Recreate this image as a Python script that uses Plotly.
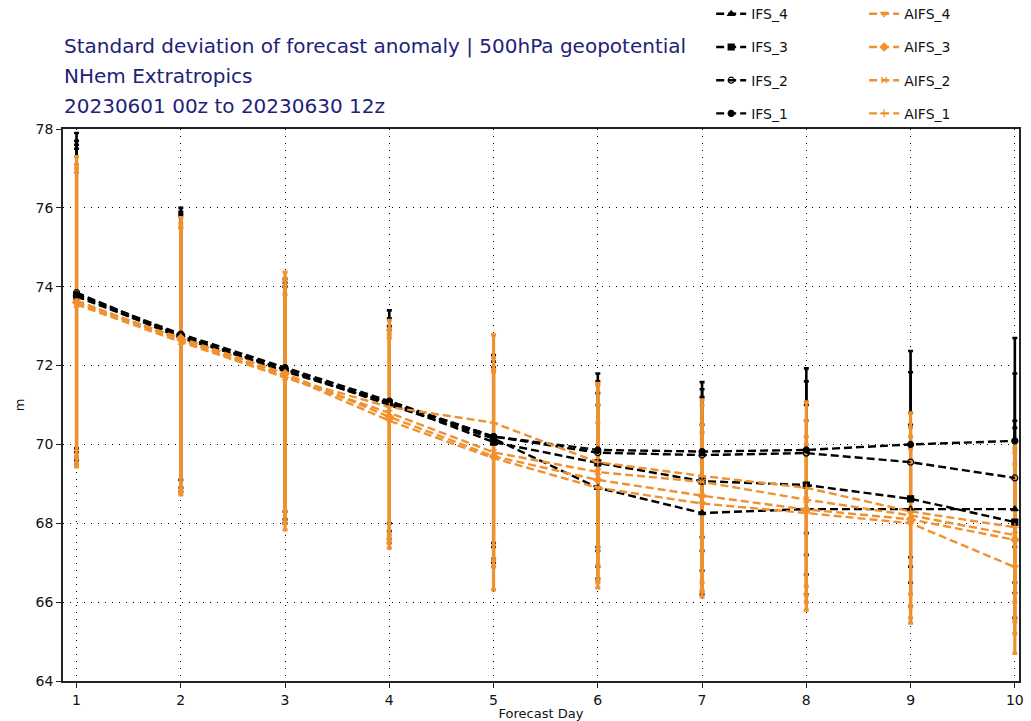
import plotly.graph_objects as go

days = [1, 2, 3, 4, 5, 6, 7, 8, 9, 10]

# mean values (m)
ifs_1 = [73.80, 72.80, 71.95, 71.10, 70.20, 69.86, 69.82, 69.86, 70.00, 70.09]
ifs_2 = [73.85, 72.75, 71.90, 71.05, 70.20, 69.79, 69.73, 69.78, 69.55, 69.15]
ifs_3 = [73.75, 72.75, 71.85, 71.05, 70.06, 69.53, 69.07, 68.97, 68.62, 68.03]
ifs_4 = [73.80, 72.70, 71.90, 71.00, 70.15, 68.90, 68.26, 68.36, 68.36, 68.36]

aifs_1 = [73.60, 72.65, 71.70, 70.95, 70.55, 69.55, 69.20, 68.90, 68.30, 67.90]
aifs_2 = [73.55, 72.60, 71.70, 70.80, 69.80, 69.30, 69.05, 68.60, 68.20, 67.70]
aifs_3 = [73.60, 72.70, 71.80, 70.70, 69.70, 69.10, 68.70, 68.35, 68.10, 67.58]
aifs_4 = [73.65, 72.65, 71.75, 70.60, 69.65, 68.90, 68.50, 68.26, 68.00, 66.89]

# whisker tops / bottoms (m)
ifs_1_hi = [77.90, 76.00, 74.20, 73.40, 72.27, 71.80, 71.58, 71.93, 72.37, 72.70]
ifs_1_lo = [69.80, 69.10, 68.30, 68.00, 67.50, 67.40, 67.65, 67.75, 67.14, 67.40]
ifs_2_hi = [77.70, 75.90, 74.10, 73.20, 72.10, 71.60, 71.40, 71.60, 71.83, 71.80]
ifs_2_lo = [69.90, 68.90, 68.10, 67.80, 67.40, 67.30, 67.30, 67.20, 66.90, 66.50]
ifs_3_hi = [77.60, 75.85, 74.00, 73.00, 71.95, 71.30, 71.20, 71.00, 70.80, 70.42]
ifs_3_lo = [69.60, 68.90, 68.00, 67.60, 67.10, 66.90, 66.80, 66.70, 66.49, 66.23]
ifs_4_hi = [77.50, 75.80, 74.00, 72.90, 71.90, 71.00, 70.50, 70.60, 70.50, 70.60]
ifs_4_lo = [69.50, 68.80, 68.00, 67.50, 67.00, 66.60, 66.20, 66.20, 65.90, 65.60]

aifs_1_hi = [77.30, 75.75, 74.37, 73.15, 72.78, 71.55, 71.13, 71.08, 70.80, 70.10]
aifs_1_lo = [69.43, 68.72, 67.83, 67.37, 66.31, 66.36, 66.13, 65.80, 65.47, 64.70]
aifs_2_hi = [77.10, 75.60, 74.20, 72.90, 72.20, 71.50, 71.00, 70.60, 70.44, 69.90]
aifs_2_lo = [69.65, 68.80, 68.00, 67.50, 66.90, 66.56, 66.26, 66.18, 65.88, 65.50]
aifs_3_hi = [77.00, 75.50, 74.00, 72.80, 71.84, 71.00, 70.50, 70.20, 70.20, 69.80]
aifs_3_lo = [69.70, 68.90, 68.30, 67.60, 67.07, 66.94, 66.50, 66.40, 66.20, 66.00]
aifs_4_hi = [76.90, 75.50, 73.80, 72.70, 71.90, 70.55, 70.30, 70.00, 69.90, 69.50]
aifs_4_lo = [69.50, 68.80, 68.00, 67.70, 66.90, 66.50, 66.30, 66.00, 65.60, 65.20]

BLACK = "#000000"
ORANGE = "#f0912f"
NAVY = "#22227a"
FONT = "DejaVu Sans"

series = [
    ("IFS_1", ifs_1, ifs_1_hi, ifs_1_lo, BLACK, "circle", "legend"),
    ("IFS_2", ifs_2, ifs_2_hi, ifs_2_lo, BLACK, "circle-open", "legend"),
    ("IFS_3", ifs_3, ifs_3_hi, ifs_3_lo, BLACK, "square", "legend"),
    ("IFS_4", ifs_4, ifs_4_hi, ifs_4_lo, BLACK, "triangle-up", "legend"),
    ("AIFS_1", aifs_1, aifs_1_hi, aifs_1_lo, ORANGE, "cross-thin-open", "legend2"),
    ("AIFS_2", aifs_2, aifs_2_hi, aifs_2_lo, ORANGE, "x-thin-open", "legend2"),
    ("AIFS_3", aifs_3, aifs_3_hi, aifs_3_lo, ORANGE, "diamond", "legend2"),
    ("AIFS_4", aifs_4, aifs_4_hi, aifs_4_lo, ORANGE, "triangle-down-open", "legend2"),
]

fig = go.Figure()

# whiskers first (under the mean lines)
for name, mean, hi, lo, col, sym, lg in series:
    plus = [h - m for h, m in zip(hi, mean)]
    minus = [m - l for m, l in zip(mean, lo)]
    fig.add_trace(go.Scatter(
        x=days, y=mean, mode="markers",
        marker=dict(size=1, opacity=0, color=col),
        error_y=dict(type="data", symmetric=False, array=plus, arrayminus=minus,
                     color=col, thickness=3.2 if col == ORANGE else 2.6, width=2.5),
        showlegend=False, hoverinfo="skip",
    ))

# mean lines on top
rank = {"IFS_4": 1, "IFS_3": 2, "IFS_2": 3, "IFS_1": 4,
        "AIFS_4": 1, "AIFS_3": 2, "AIFS_2": 3, "AIFS_1": 4}
for name, mean, hi, lo, col, sym, lg in series:
    fig.add_trace(go.Scatter(
        x=days, y=mean, mode="lines+markers", name=name,
        line=dict(color=col, width=2.4, dash="8px,4px"),
        marker=dict(symbol=sym, size=6, color=col, line=dict(color=col, width=1.2)),
        legend=lg, legendrank=rank[name], legendgroup=name,
    ))

axis_common = dict(
    showline=True, mirror=True, linecolor="#222222", linewidth=1.5,
    ticks="outside", ticklen=5, tickwidth=1.2, tickcolor="#222222",
    showgrid=True, gridcolor="#000000", gridwidth=1, griddash="1px,6px",
    zeroline=False, tickfont=dict(family=FONT, size=14, color="#111111"),
    automargin=False,
)

fig.update_layout(
    width=1031, height=721,
    margin=dict(l=63, r=12, t=129, b=40, autoexpand=False),
    paper_bgcolor="white", plot_bgcolor="white",
    font=dict(family=FONT, color="#111111"),
    xaxis=dict(range=[0.87, 10.04], tickvals=days, ticktext=[str(d) for d in days],
               title=dict(text="Forecast Day", font=dict(family=FONT, size=13), standoff=2),
               **axis_common),
    yaxis=dict(range=[64, 78], tickvals=[64, 66, 68, 70, 72, 74, 76, 78],
               title=dict(text="m", font=dict(family=FONT, size=13), standoff=8),
               **axis_common),
    legend=dict(x=0.678, y=1.237, xanchor="left", yanchor="top", tracegroupgap=12,
                font=dict(family=FONT, size=14, color="#111111"),
                bgcolor="rgba(0,0,0,0)", itemwidth=30),
    legend2=dict(x=0.838, y=1.237, xanchor="left", yanchor="top", tracegroupgap=12,
                 font=dict(family=FONT, size=14, color="#111111"),
                 bgcolor="rgba(0,0,0,0)", itemwidth=30),
    showlegend=True,
)

title_lines = [
    "Standard deviation of forecast anomaly | 500hPa geopotential",
    "NHem Extratropics",
    "20230601 00z to 20230630 12z",
]
for i, t in enumerate(title_lines):
    fig.add_annotation(
        text=t, xref="paper", yref="paper", x=0.0, y=(681 - (46 + 30 * i)) / 552,
        xanchor="left", yanchor="middle", showarrow=False,
        font=dict(family=FONT, size=20, color=NAVY), xshift=-1,
    )

fig.write_html("out.html")
